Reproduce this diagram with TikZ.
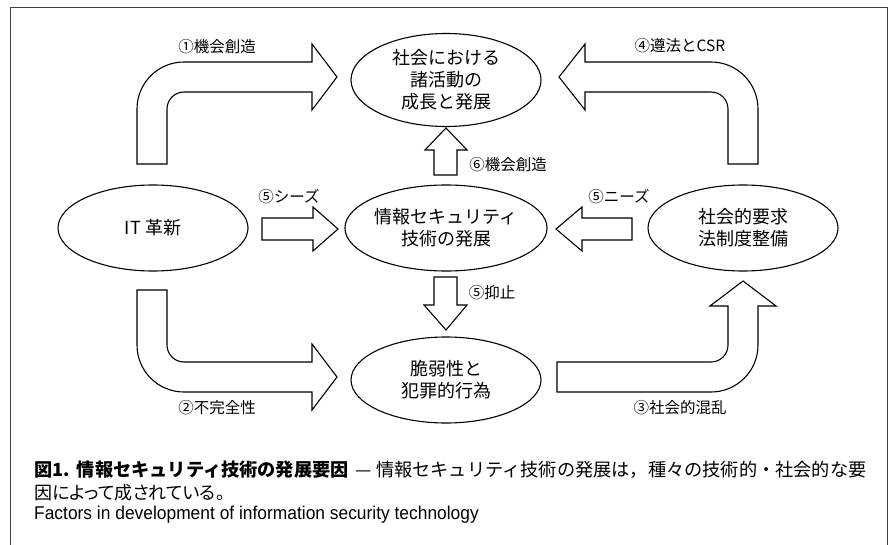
\documentclass[tikz,border=0pt]{standalone}
\usepackage{fontspec}
\setmainfont{Noto Sans CJK JP}
\newfontfamily\capfont[RawFeature=+palt]{Noto Sans CJK JP}
\newfontfamily\enfont[FakeStretch=0.94]{Liberation Sans}
\usetikzlibrary{shapes.geometric}
\begin{document}
\begin{tikzpicture}[x=1pt,y=-1pt,
  bubble/.style={draw, line width=1.1pt, ellipse, minimum width=190pt, minimum height=86pt, inner sep=0pt, align=center, font=\fontsize{18}{22}\selectfont},
  blockarrow/.style={draw, line width=1.1pt, line join=miter, fill=white},
  lbl/.style={font=\fontsize{15.5}{18}\selectfont, inner sep=0pt},
  captxt/.style={anchor=west, inner sep=0pt, font=\fontsize{18}{22}\selectfont}]
\useasboundingbox (0,0) rectangle (890,545);
% frame (open at bottom)
\draw[black!75, line width=1pt] (10.5,545) -- (10.5,7.5) -- (887.5,7.5) -- (887.5,545);

% ellipses
\node[bubble, minimum height=93pt] (soc) at (446,80) {社会における\\諸活動の\\成長と発展};
\node[bubble] (it) at (153,228) {IT 革新};
\node[bubble] (sec) at (446,228) {情報セキュリティ\\技術の発展};
\node[bubble] (req) at (743,228) {社会的要求\\法制度整備};
\node[bubble] (vul) at (446,380) {脆弱性と\\犯罪的行為};

% bent arrows
\draw[blockarrow] (137,164) -- (137,109) .. controls (137,83) and (158,62) .. (184,62) -- (312,62) -- (312,44) -- (337,77) -- (312,110) -- (312,92) -- (184,92) .. controls (174.6,92) and (167,99.6) .. (167,109) -- (167,164) -- cycle;
\draw[blockarrow] (167,290) -- (137,290) -- (137,345) .. controls (137,371) and (158,392) .. (184,392) -- (312,392) -- (312,410) -- (337,377) -- (312,344) -- (312,362) -- (184,362) .. controls (174.6,362) and (167,354.4) .. (167,345) -- cycle;
\draw[blockarrow] (728,164) -- (758,164) -- (758,109) .. controls (758,83) and (737,62) .. (711,62) -- (585,62) -- (585,44) -- (559,77) -- (585,110) -- (585,92) -- (711,92) .. controls (720.4,92) and (728,99.6) .. (728,109) -- cycle;
\draw[blockarrow] (557,362) -- (557,392) -- (711,392) .. controls (737,392) and (758,371) .. (758,345) -- (758,306) -- (776,306) -- (743,281) -- (710,306) -- (728,306) -- (728,345) .. controls (728,354.4) and (720.4,362) .. (711,362) -- cycle;

% straight arrows
\draw[blockarrow] (262,218) -- (313,218) -- (313,207) -- (338,229) -- (313,251) -- (313,240) -- (262,240) -- cycle;
\draw[blockarrow] (632,218) -- (582,218) -- (582,207) -- (556,229) -- (582,251) -- (582,240) -- (632,240) -- cycle;
\draw[blockarrow] (434,175) -- (434,150) -- (425,150) -- (446,128) -- (467,150) -- (457,150) -- (457,175) -- cycle;
\draw[blockarrow] (434,277) -- (457,277) -- (457,305) -- (467,305) -- (446,330) -- (424,305) -- (434,305) -- cycle;

% labels
\node[lbl] (l1) at (217,47) {①機会創造};
\node[lbl] (l4) at (680,46) {④遵法とCSR};
\node[lbl] (l6) at (508,165) {⑥機会創造};
\node[lbl] (l5a) at (289,197) {⑤シーズ};
\node[lbl] (l5b) at (619,197) {⑤ニーズ};
\node[lbl] (l5c) at (492,293) {⑤抑止};
\node[lbl] (l2) at (217,408) {②不完全性};
\node[lbl] (l3) at (680,408) {③社会的混乱};

% caption
\node[captxt, font=\fontsize{18.2}{22}\selectfont] (cap1) at (34,470) {{\bfseries 図1.\hspace{7pt}情報セキュリティ技術の発展要因}\hspace{7pt}— 情報セキュリティ技術の発展は，種々の技術的・社会的な要};
\node[captxt] (cap2) at (34,493) {\capfont 因によって成されている。};
\node[captxt, font=\fontsize{18.5}{21}\enfont] (cap3) at (34,515) {Factors in development of information security technology};
\end{tikzpicture}
\end{document}
